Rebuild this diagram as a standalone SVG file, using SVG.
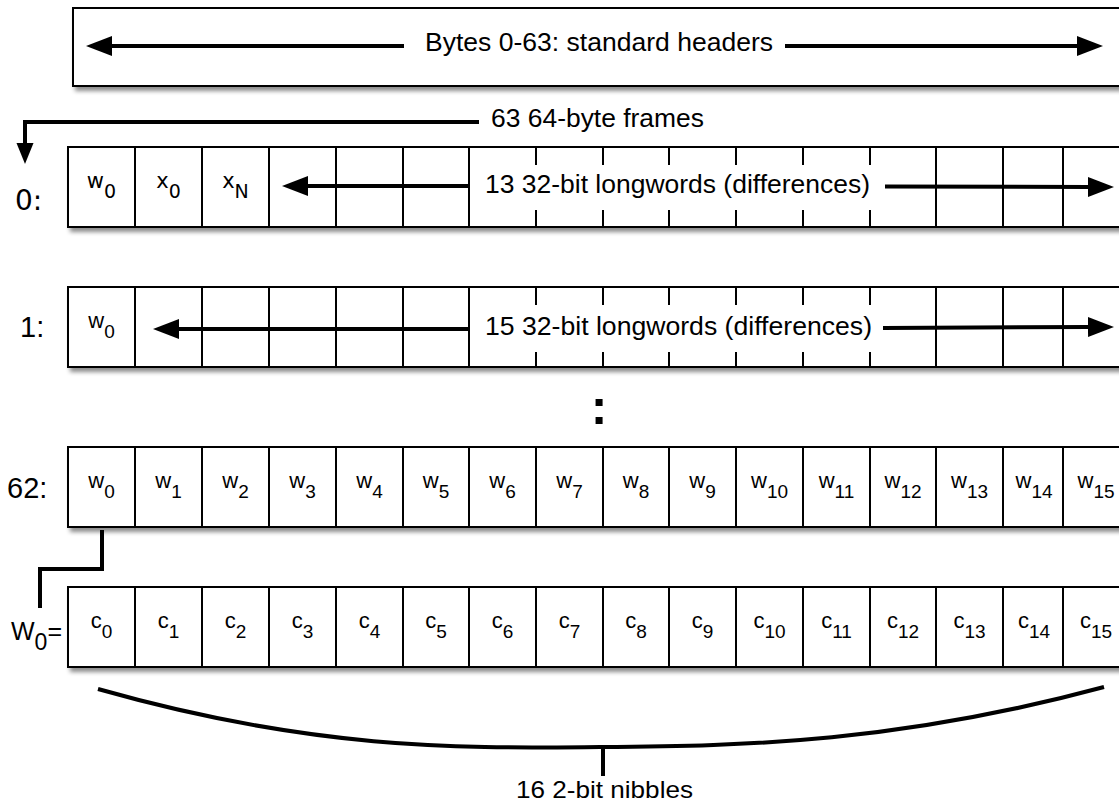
<svg xmlns="http://www.w3.org/2000/svg" width="1119" height="804" viewBox="0 0 1119 804">
<style>
.t{font-family:"Liberation Sans",Arial,sans-serif;fill:#000}
.big{font-size:25px}
.lab{font-size:29px}
.cl{font-size:22px;text-anchor:middle}
.sub{font-size:19px}
.d{font-family:"DejaVu Sans",sans-serif;fill:#000}
.box{fill:#fff;stroke:#000;stroke-width:2;filter:url(#sh)}
.grid{stroke:#000;stroke-width:2;fill:none}
.arr{stroke:#000;stroke-width:4;fill:none}
</style>
<defs>
<filter id="sh" x="-5%" y="-20%" width="110%" height="150%">
<feDropShadow dx="3" dy="4" stdDeviation="2" flood-color="#000" flood-opacity="0.45"/>
</filter>
<marker id="ah" markerUnits="userSpaceOnUse" markerWidth="28" markerHeight="22" viewBox="0 0 28 22" refX="1" refY="11" orient="auto-start-reverse">
<path d="M0,1 L26,11 L0,21 z" fill="#000"/>
</marker>
<marker id="ah2" markerUnits="userSpaceOnUse" markerWidth="22" markerHeight="18" viewBox="0 0 22 18" refX="1" refY="9" orient="auto">
<path d="M0,0.5 L21,9 L0,17.5 z" fill="#000"/>
</marker>
</defs>
<rect width="1119" height="804" fill="#fff"/>

<g id="header">
<rect class="box" x="73" y="8" width="1080" height="78"/>
<text class="t big" x="425" y="51" textLength="348" lengthAdjust="spacingAndGlyphs">Bytes 0-63: standard headers</text>
</g>

<g id="frame0">
<rect class="box" x="68" y="147" width="1080" height="80"/>
<path class="grid" d="M135,147V227M202,147V227M269,147V227M336,147V227M403,147V227M469,147V227M936,147V227M1003,147V227M1063,147V227
M536,147V165M603,147V165M669,147V165M736,147V165M803,147V165M870,147V165
M536,210V227M603,210V227M669,210V227M736,210V227M803,210V227M870,210V227"/>
<text class="d" x="15" y="210" font-size="28">0:</text>
<text class="d" x="101.5" y="188" text-anchor="middle" font-size="21">w<tspan dy="10" font-size="19">0</tspan></text>
<text class="d" x="168.5" y="188" text-anchor="middle" font-size="21">x<tspan dy="10" font-size="19">0</tspan></text>
<text class="d" x="235.5" y="188" text-anchor="middle" font-size="21">x<tspan dy="10" font-size="19">N</tspan></text>
<text class="t big" x="485" y="193" textLength="385" lengthAdjust="spacingAndGlyphs">13 32-bit longwords (differences)</text>
</g>

<g id="frame1">
<rect class="box" x="68" y="287" width="1080" height="80"/>
<path class="grid" d="M135,287V367M202,287V367M269,287V367M336,287V367M403,287V367M469,287V367M936,287V367M1003,287V367M1063,287V367
M536,287V305M603,287V305M669,287V305M736,287V305M803,287V305M870,287V305
M536,352V367M603,352V367M669,352V367M736,352V367M803,352V367M870,352V367"/>
<text class="t lab" x="20" y="337">1:</text>
<text class="t cl" x="101.5" y="328">w<tspan class="sub" dy="10">0</tspan></text>
<text class="t big" x="485" y="335" textLength="387" lengthAdjust="spacingAndGlyphs">15 32-bit longwords (differences)</text>
</g>

<g id="ellipsis">
<text class="t" x="599" y="424" text-anchor="middle" font-size="50" font-weight="bold">:</text>
</g>

<g id="frame62">
<rect class="box" x="68" y="447" width="1080" height="80"/>
<path class="grid" d="M135,447V527M202,447V527M269,447V527M336,447V527M403,447V527M469,447V527M536,447V527M603,447V527M669,447V527M736,447V527M803,447V527M870,447V527M936,447V527M1003,447V527M1063,447V527"/>
<text class="t lab" x="7" y="498">62:</text>
<text class="t cl" x="101.5" y="488">w<tspan class="sub" dy="10">0</tspan></text>
<text class="t cl" x="168.5" y="488">w<tspan class="sub" dy="10">1</tspan></text>
<text class="t cl" x="235.5" y="488">w<tspan class="sub" dy="10">2</tspan></text>
<text class="t cl" x="302.5" y="488">w<tspan class="sub" dy="10">3</tspan></text>
<text class="t cl" x="369.5" y="488">w<tspan class="sub" dy="10">4</tspan></text>
<text class="t cl" x="436" y="488">w<tspan class="sub" dy="10">5</tspan></text>
<text class="t cl" x="502.5" y="488">w<tspan class="sub" dy="10">6</tspan></text>
<text class="t cl" x="569.5" y="488">w<tspan class="sub" dy="10">7</tspan></text>
<text class="t cl" x="636" y="488">w<tspan class="sub" dy="10">8</tspan></text>
<text class="t cl" x="702.5" y="488">w<tspan class="sub" dy="10">9</tspan></text>
<text class="t cl" x="769.5" y="488">w<tspan class="sub" dy="10">10</tspan></text>
<text class="t cl" x="836.5" y="488">w<tspan class="sub" dy="10">11</tspan></text>
<text class="t cl" x="903" y="488">w<tspan class="sub" dy="10">12</tspan></text>
<text class="t cl" x="969.5" y="488">w<tspan class="sub" dy="10">13</tspan></text>
<text class="t cl" x="1034" y="488">w<tspan class="sub" dy="10">14</tspan></text>
<text class="t cl" x="1096" y="488">w<tspan class="sub" dy="10">15</tspan></text>
</g>

<g id="word">
<rect class="box" x="68" y="587" width="1080" height="80"/>
<path class="grid" d="M135,587V667M202,587V667M269,587V667M336,587V667M403,587V667M469,587V667M536,587V667M603,587V667M669,587V667M736,587V667M803,587V667M870,587V667M936,587V667M1003,587V667M1063,587V667"/>
<text class="t" x="11" y="640" font-size="25">W<tspan dy="10" font-size="23">0</tspan><tspan dy="-10">=</tspan></text>
<text class="t cl" x="101.5" y="628">c<tspan class="sub" dy="10">0</tspan></text>
<text class="t cl" x="168.5" y="628">c<tspan class="sub" dy="10">1</tspan></text>
<text class="t cl" x="235.5" y="628">c<tspan class="sub" dy="10">2</tspan></text>
<text class="t cl" x="302.5" y="628">c<tspan class="sub" dy="10">3</tspan></text>
<text class="t cl" x="369.5" y="628">c<tspan class="sub" dy="10">4</tspan></text>
<text class="t cl" x="436" y="628">c<tspan class="sub" dy="10">5</tspan></text>
<text class="t cl" x="502.5" y="628">c<tspan class="sub" dy="10">6</tspan></text>
<text class="t cl" x="569.5" y="628">c<tspan class="sub" dy="10">7</tspan></text>
<text class="t cl" x="636" y="628">c<tspan class="sub" dy="10">8</tspan></text>
<text class="t cl" x="702.5" y="628">c<tspan class="sub" dy="10">9</tspan></text>
<text class="t cl" x="769.5" y="628">c<tspan class="sub" dy="10">10</tspan></text>
<text class="t cl" x="836.5" y="628">c<tspan class="sub" dy="10">11</tspan></text>
<text class="t cl" x="903" y="628">c<tspan class="sub" dy="10">12</tspan></text>
<text class="t cl" x="969.5" y="628">c<tspan class="sub" dy="10">13</tspan></text>
<text class="t cl" x="1034" y="628">c<tspan class="sub" dy="10">14</tspan></text>
<text class="t cl" x="1096" y="628">c<tspan class="sub" dy="10">15</tspan></text>
</g>

<g id="nibbles">
<text class="t" x="516" y="798" font-size="24" textLength="177" lengthAdjust="spacingAndGlyphs">16 2-bit nibbles</text>
</g>

<g id="frames-label">
<text class="t big" x="491" y="127" textLength="213" lengthAdjust="spacingAndGlyphs">63 64-byte frames</text>
</g>

<g id="connectors">
<path class="arr" d="M111,46H404" marker-start="url(#ah)"/>
<path class="arr" d="M785,46H1078" marker-end="url(#ah)"/>
<path class="arr" d="M479,122H25V144" stroke-width="3.5" marker-end="url(#ah2)"/>
<path class="arr" d="M307,186H470" marker-start="url(#ah)"/>
<path class="arr" d="M885,186.5L1089,187" marker-end="url(#ah)"/>
<path class="arr" d="M178,329H470" marker-start="url(#ah)"/>
<path class="arr" d="M883,328L1089,327" marker-end="url(#ah)"/>
<path class="arr" d="M102,530V569H40V608"/>
<path class="arr" d="M98,689C320,752 470,748 600,747C750,746 900,742 1104,687" stroke-width="4.5"/>
<path class="arr" d="M603,747V776" stroke-width="3.5"/>
</g>
</svg>
